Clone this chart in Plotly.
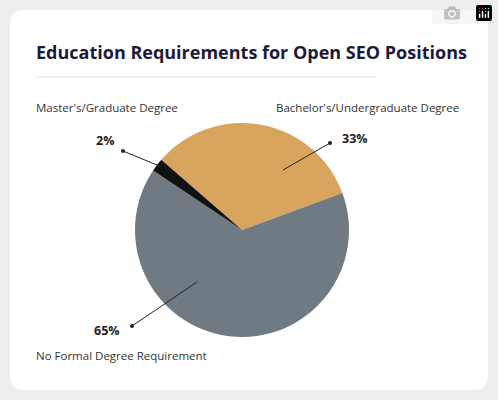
import plotly.graph_objects as go

labels = ["Bachelor's/Undergraduate Degree", "No Formal Degree Requirement", "Master's/Graduate Degree"]
values = [33, 65, 2]
colors = ["#d9a55e", "#6f7a82", "#111111"]

W, H = 498, 400
def px(x): return x / W
def py(y): return 1 - y / H

fig = go.Figure(go.Pie(labels=labels, values=values, sort=False, direction="clockwise",
                       rotation=-49, marker=dict(colors=colors, line=dict(width=0)),
                       textinfo="none", hoverinfo="label+percent",
                       domain=dict(x=[135/W, 349/W], y=[63/H, 277/H])))
x0, x1, y0, y1, r = 10, 488, 10, 390, 14
path = (f"M {px(x0+r)},{py(y0)} L {px(x1-r)},{py(y0)} Q {px(x1)},{py(y0)} {px(x1)},{py(y0+r)} "
        f"L {px(x1)},{py(y1-r)} Q {px(x1)},{py(y1)} {px(x1-r)},{py(y1)} "
        f"L {px(x0+r)},{py(y1)} Q {px(x0)},{py(y1)} {px(x0)},{py(y1-r)} "
        f"L {px(x0)},{py(y0+r)} Q {px(x0)},{py(y0)} {px(x0+r)},{py(y0)} Z")
shapes = [
    dict(type="path", xref="paper", yref="paper", path=path,
         fillcolor="white", line=dict(width=0), layer="below"),
    dict(type="line", xref="paper", yref="paper", x0=px(35), x1=px(375), y0=py(77), y1=py(77),
         line=dict(color="#e3e3e3", width=1)),
]
for (a0, b0, a1, b1) in [(283, 170, 330, 143), (157, 165, 123, 151), (197, 282, 132, 326)]:
    shapes.append(dict(type="line", xref="paper", yref="paper", x0=px(a0), y0=py(b0), x1=px(a1), y1=py(b1),
                       line=dict(color="#222", width=1)))
    shapes.append(dict(type="circle", xref="paper", yref="paper", x0=px(a1-2), x1=px(a1+2),
                       y0=py(b1+2), y1=py(b1-2), fillcolor="#222", line=dict(width=0)))
f = "Open Sans"
ann = [
    dict(text="<b>Education Requirements for Open SEO Positions</b>", x=px(34), y=py(52), xanchor="left",
         font=dict(size=18, color="#1c1a3a", family=f)),
    dict(text="<b>33%</b>", x=px(355), y=py(138), xanchor="center", font=dict(size=12.5, color="#222", family=f)),
    dict(text=labels[0], x=px(461), y=py(107), xanchor="right", font=dict(size=11.5, color="#333", family=f)),
    dict(text="<b>2%</b>", x=px(105), y=py(140), xanchor="center", font=dict(size=12.5, color="#222", family=f)),
    dict(text=labels[2], x=px(34), y=py(107), xanchor="left", font=dict(size=11.5, color="#333", family=f)),
    dict(text="<b>65%</b>", x=px(107), y=py(330), xanchor="center", font=dict(size=12.5, color="#222", family=f)),
    dict(text=labels[1], x=px(34), y=py(355), xanchor="left", font=dict(size=11.5, color="#333", family=f)),
]
for a in ann:
    a.update(xref="paper", yref="paper", yanchor="middle", showarrow=False)
fig.update_layout(width=W, height=H, margin=dict(l=0, r=0, t=0, b=0), paper_bgcolor="#eeeeee",
                  showlegend=False, shapes=shapes, annotations=ann)
fig.write_html("out.html", post_script="document.body.style.margin='0';document.body.style.overflow='hidden';")
